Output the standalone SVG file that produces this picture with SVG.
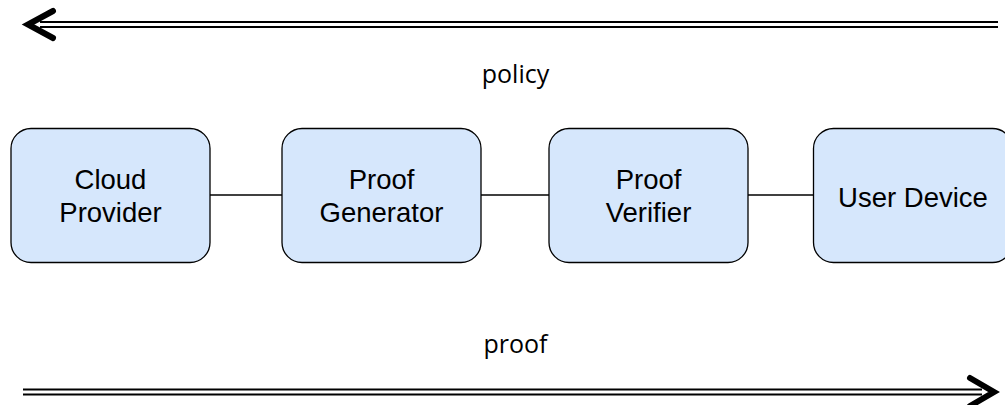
<svg xmlns="http://www.w3.org/2000/svg" width="1005" height="405" viewBox="0 0 1005 405">
<style>
.box{fill:#d6e7fc;stroke:#000;stroke-width:1.3}
.lbl{font-family:"Liberation Sans",Arial,sans-serif;font-size:27.5px;fill:#000;text-anchor:middle}
.cap{font-family:"Open Sans","Noto Sans",sans-serif;font-size:25px;fill:#000;text-anchor:middle}
.dbl{stroke:#000;stroke-width:2.2;fill:none}
.head{stroke:#000;stroke-width:6;fill:none;stroke-linecap:round;stroke-linejoin:miter}
.conn{stroke:#000;stroke-width:1.5;fill:none}
</style>
<rect width="1005" height="405" fill="#fff"/>
<g id="connectors">
<line class="conn" x1="210" y1="195" x2="282" y2="195"/>
<line class="conn" x1="481" y1="195" x2="549" y2="195"/>
<line class="conn" x1="748" y1="195" x2="813" y2="195"/>
<g id="policy-arrow">
<line class="dbl" x1="40" y1="22" x2="998" y2="22"/>
<line class="dbl" x1="40" y1="27" x2="998" y2="27"/>
<polyline class="head" points="53,11 28,24.5 53,38"/>
</g>
<g id="proof-arrow">
<line class="dbl" x1="23" y1="389.5" x2="982" y2="389.5"/>
<line class="dbl" x1="23" y1="394.5" x2="982" y2="394.5"/>
<polyline class="head" points="970,378 994,392 970,406"/>
</g>
</g>
<g id="cloud-provider">
<rect class="box" x="11" y="128.5" width="199" height="134" rx="20"/>
<text class="lbl" x="110.5" y="189">Cloud</text>
<text class="lbl" x="110.5" y="222">Provider</text>
</g>
<g id="proof-generator">
<rect class="box" x="282" y="128.5" width="199" height="134" rx="20"/>
<text class="lbl" x="381.5" y="189">Proof</text>
<text class="lbl" x="381.5" y="222">Generator</text>
</g>
<g id="proof-verifier">
<rect class="box" x="549" y="128.5" width="199" height="134" rx="20"/>
<text class="lbl" x="648.5" y="189">Proof</text>
<text class="lbl" x="648.5" y="222">Verifier</text>
</g>
<g id="user-device">
<rect class="box" x="813.5" y="128.5" width="199" height="134" rx="20"/>
<text class="lbl" x="913" y="207">User Device</text>
</g>
<text class="cap" x="515.5" y="83">policy</text>
<text class="cap" x="515.5" y="353">proof</text>
</svg>
